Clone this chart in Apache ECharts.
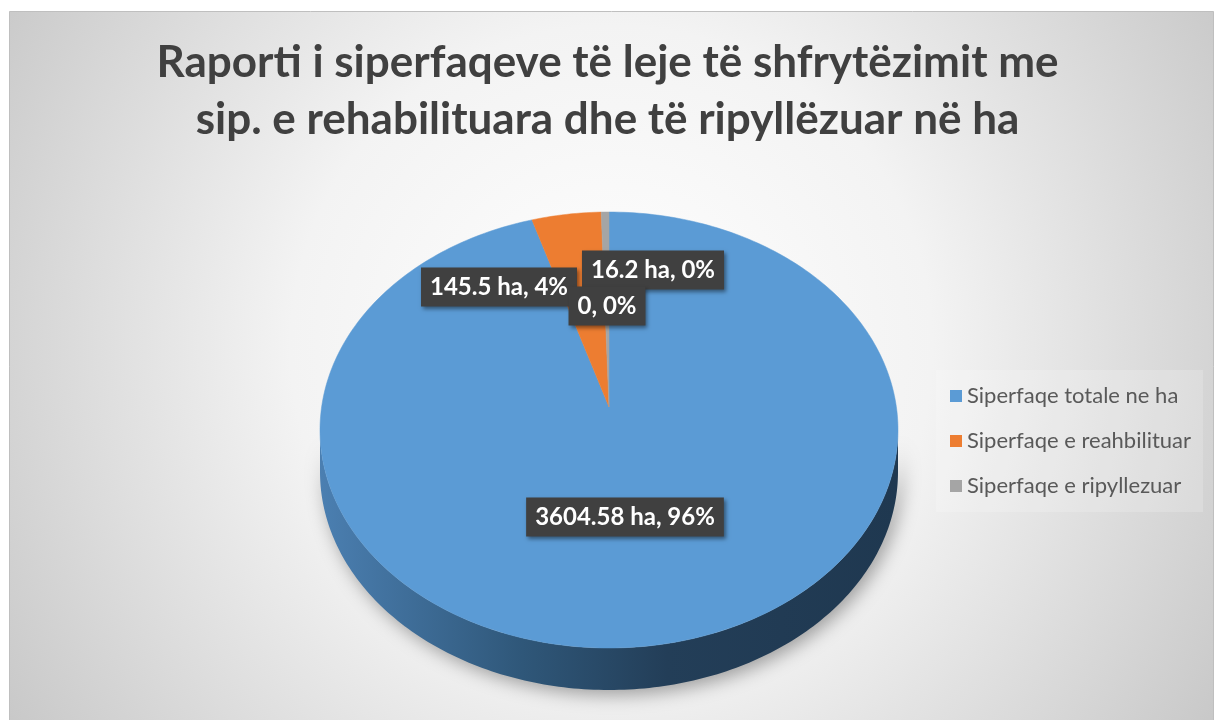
<!DOCTYPE html>
<html>
<head>
<meta charset="utf-8">
<script src="https://cdn.jsdelivr.net/npm/echarts@6/dist/echarts.min.js"></script>
<style>
html,body{margin:0;padding:0;background:#fff;}
#chart{width:1215px;height:720px;}
</style>
</head>
<body>
<div id="chart"></div>
<script>
// ---- data ----
const titleLines = ['Raporti i siperfaqeve të leje të shfrytëzimit me', 'sip. e rehabilituara dhe të ripyllëzuar në ha'];
const categories = ['Siperfaqe totale ne ha', 'Siperfaqe e reahbilituar', 'Siperfaqe e ripyllezuar', ' '];
const values = [3604.58, 145.5, 16.2, 0];
const valueTexts = ['3604.58 ha', '145.5 ha', '16.2 ha', '0'];
const legendNames = ['Siperfaqe totale ne ha', 'Siperfaqe e reahbilituar', 'Siperfaqe e ripyllezuar'];

// ---- styles / layout ----
const colors = ['#5b9bd5', '#ed7d31', '#a5a5a5', '#ffc000'];
const sideColors = [
  ['#4b7fb1', '#2f5779', '#233e58', '#1f3850'],
  ['#b35c22', '#8f4719', '#743a14', '#6a3512'],
  ['#7d7d7d', '#656565', '#555555', '#4d4d4d'],
  ['#bf9000', '#997300', '#806000', '#735600']
];
const PIE = {cx: 609, cy: 430, rx: 289, ry: 218, depth: 42, vx: 609, vy: 407};
const labelCenters = [[625, 517], [499, 287], [653, 270], [607, 306]];
const labelZ = [100, 101, 102, 103];

const total = values.reduce((a, b) => a + b, 0);
function pt(theta, dy) {
  return [PIE.cx + PIE.rx * Math.sin(theta), PIE.cy - PIE.ry * Math.cos(theta) + (dy || 0)];
}
function arcPoints(a0, a1, dy) {
  const pts = [];
  const n = Math.max(2, Math.ceil((a1 - a0) / (Math.PI * 2) * 360));
  for (let k = 0; k <= n; k++) pts.push(pt(a0 + (a1 - a0) * k / n, dy));
  return pts;
}

function makeRender(i) {
  return function (params, api) {
    const v = api.value(0);
    let before = 0;
    for (let k = 0; k < i; k++) before += values[k];
    const a0 = before / total * Math.PI * 2;
    const a1 = (before + v) / total * Math.PI * 2;
    const children = [];
    // visible side (front half)
    const s0 = Math.max(a0, Math.PI / 2), s1 = Math.min(a1, Math.PI * 3 / 2);
    if (s1 > s0) {
      const top = arcPoints(s0, s1, 0);
      const bot = arcPoints(s0, s1, PIE.depth).reverse();
      const sc = sideColors[i];
      children.push({
        type: 'polygon', z2: 1,
        shape: {points: top.concat(bot)},
        style: {
          fill: new echarts.graphic.LinearGradient(0, 0, 1, 0, [
            {offset: 0, color: sc[0]}, {offset: 0.35, color: sc[1]},
            {offset: 0.6, color: sc[2]}, {offset: 1, color: sc[3]}
          ]),
          shadowBlur: 18, shadowColor: 'rgba(0,0,0,0.35)', shadowOffsetX: 4, shadowOffsetY: 5
        }
      });
    }
    // top face
    if (a1 > a0) {
      const pts = [[PIE.vx, PIE.vy]].concat(arcPoints(a0, a1, 0));
      children.push({
        type: 'polygon', z2: 10,
        shape: {points: pts},
        style: {fill: colors[i], stroke: colors[i], lineWidth: 0.5}
      });
    }
    // data label
    const pct = Math.round(v / total * 100);
    const c = labelCenters[i];
    children.push({
      type: 'text', z2: labelZ[i],
      style: {
        text: valueTexts[i] + ', ' + pct + '%',
        x: c[0], y: c[1], align: 'center', verticalAlign: 'middle',
        fill: '#ffffff', font: 'bold 24px Lato',
        backgroundColor: '#404040', padding: [8, 9, 7, 9],
        shadowBlur: 4, shadowColor: 'rgba(0,0,0,0.45)', shadowOffsetX: 2, shadowOffsetY: 2
      }
    });
    return {type: 'group', children: children};
  };
}

const chart = echarts.init(document.getElementById('chart'), null, {renderer: 'canvas'});
const series = categories.map((name, i) => ({
  type: 'custom',
  name: name,
  coordinateSystem: 'none',
  itemStyle: {color: colors[i]},
  data: [[values[i]]],
  renderItem: makeRender(i),
  silent: true
}));

chart.setOption({
  animation: false,
  color: colors,
  graphic: [{
    type: 'rect', z: -10, silent: true,
    shape: {x: 9.5, y: 11.5, width: 1204, height: 712},
    style: {
      fill: new echarts.graphic.RadialGradient(0.5, 0.47, 1.0, [
        {offset: 0, color: '#ffffff'},
        {offset: 0.45, color: '#f3f3f3'},
        {offset: 1, color: '#c8c8c8'}
      ]),
      stroke: '#bfbfbf', lineWidth: 1
    }
  }],
  title: {
    text: titleLines.join('\n'),
    left: 'center',
    top: 34,
    padding: 0,
    textStyle: {
      fontFamily: 'Lato', fontWeight: 'bold', fontSize: 44,
      color: '#404040', lineHeight: 57
    }
  },
  legend: {
    data: legendNames,
    orient: 'vertical',
    left: 936,
    top: 370,
    padding: [14, 12, 14, 14],
    backgroundColor: 'rgba(255,255,255,0.18)',
    icon: 'rect',
    itemWidth: 12,
    itemHeight: 12,
    itemGap: 21,
    selectedMode: false,
    textStyle: {fontFamily: 'Lato', fontSize: 22, color: '#595959', lineHeight: 24}
  },
  series: series
});
</script>
</body>
</html>
